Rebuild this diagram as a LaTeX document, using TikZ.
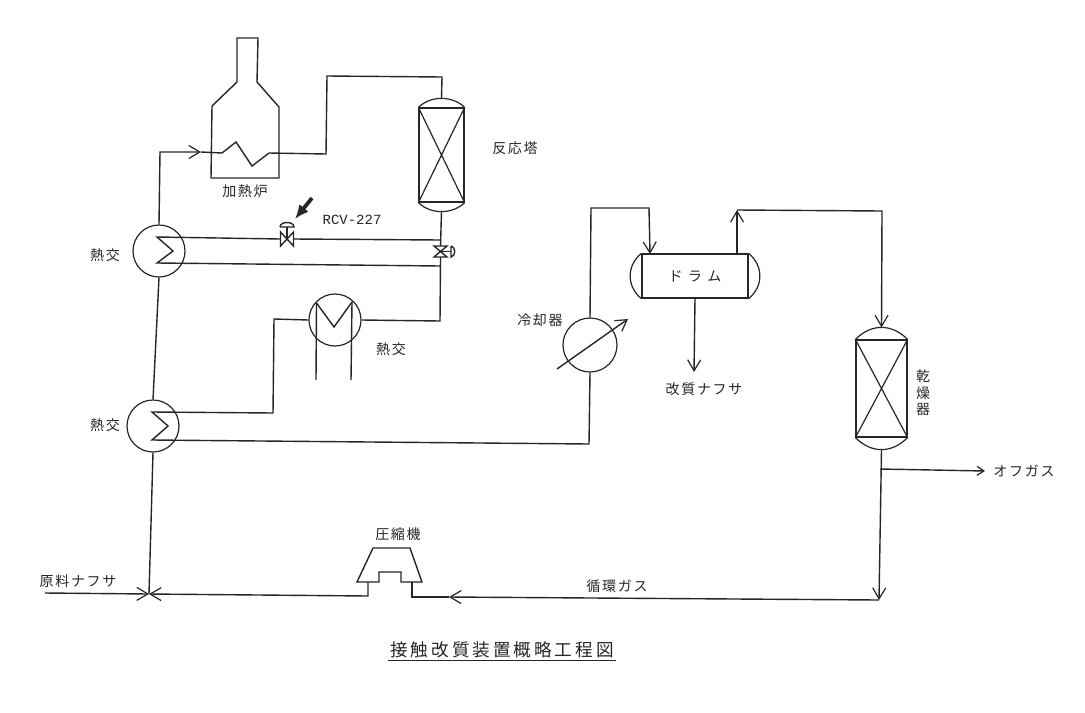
\documentclass[tikz,border=0pt]{standalone}
\usepackage{fontspec}
\usepackage{tikz}
\usetikzlibrary{arrows.meta,calc,positioning}
\newfontfamily\jpfont[LetterSpace=12]{Noto Sans CJK JP}
\newfontfamily\jpwide[LetterSpace=40]{Noto Sans CJK JP}
\newfontfamily\jptitle[LetterSpace=17]{Noto Sans CJK JP}
\newfontfamily\tagfont{Liberation Mono}
\definecolor{Ink}{HTML}{262626}
\tikzset{
  pipe/.style={Ink,line width=0.7pt,line join=miter},
  flow/.style={pipe,-{Straight Barb[length=5.5pt,width=6.5pt,line width=0.6pt]}},
  flowsmall/.style={pipe,-{Straight Barb[length=3.5pt,width=4.5pt,line width=0.6pt]}},
  exch/.style={draw=Ink,line width=0.6pt,circle,inner sep=0pt,minimum size=26pt},
  vessel/.style={draw=Ink,line width=0.6pt,rectangle,inner sep=0pt},
  valvebox/.style={rectangle,inner sep=0pt,outer sep=0pt},
  lbl/.style={text=Ink,inner sep=0pt,font=\jpfont\fontsize{7}{9}\selectfont},
}
\newcommand{\packedbed}[2]{%
  \draw[pipe,line width=0.6pt] (#1.north west) -- (#1.south east) (#1.north east) -- (#1.south west);
  \draw[pipe,line width=0.6pt] (#1.north west) .. controls +(#2,-#2) and +(-#2,-#2) .. (#1.north east);
  \draw[pipe,line width=0.6pt] (#1.south west) .. controls +(#2,#2) and +(-#2,#2) .. (#1.south east);
  \coordinate (#1top) at ($(#1.north)+(0,-0.75*#2)$);
  \coordinate (#1bot) at ($(#1.south)+(0,0.75*#2)$);
}
\begin{document}
\begin{tikzpicture}[x=0.5pt,y=-0.5pt,>=Latex]
    \useasboundingbox (0,0) rectangle (1085,712);
    \fill[white] (0,0) rectangle (1085,712);

    % furnace
    \draw[pipe] (237,38) -- (258,38) -- (257,82) -- (279,107) -- (279,178)
      -- (211,178) -- (212,106) -- (237,82) -- cycle;
    \coordinate (coilin) at (222,153);
    \coordinate (coilout) at (269,153);

    % equipment
    \node[exch] (hxA) at (159,251) {};
    \node[exch] (hxB) at (153,426) {};
    \node[exch] (hxC) at (335,320) {};
    \node[exch,minimum size=27pt] (cooler) at (590,345) {};
    \node[vessel,minimum width=22.5pt,minimum height=47pt] (reactor) at (441.5,155) {};
    \node[vessel,minimum width=25.5pt,minimum height=48.5pt] (dryer) at (881.5,388.5) {};
    \node[vessel,minimum width=53pt,minimum height=22pt,text=Ink,font=\jpwide\fontsize{7}{9}\selectfont]
      (drum) at (695,276) {ドラム};
    \packedbed{reactor}{12}
    \packedbed{dryer}{16}
    \draw[pipe,line width=0.6pt] (drum.north west) .. controls +(-15,12) and +(-15,-12) .. (drum.south west);
    \draw[pipe,line width=0.6pt] (drum.north east) .. controls +(15,12) and +(15,-12) .. (drum.south east);

    % compressor
    \node[valvebox,minimum width=32.5pt,minimum height=17pt] (comp) at (389.5,565) {};
    \draw[pipe] (373,548) -- (410,548) -- (422,582) -- (401,582) -- (401,572)
      -- (379,572) -- (379,582) -- (357,582) -- cycle;

    % valves
    \node[valvebox,minimum width=6.5pt,minimum height=7pt] (rcv) at (287,239) {};
    \node[valvebox,minimum width=6.5pt,minimum height=5.5pt] (bypass) at (440.5,251.5) {};
    \draw[pipe] (rcv.north west) -- (rcv.south west) -- (rcv.north east) -- (rcv.south east) -- cycle;
    \draw[pipe] (rcv.center) -- (287,227);
    \draw[pipe] (280,227) -- (294,227) .. controls (294,221) and (280,221) .. (280,227);
    \draw[pipe] (bypass.north west) -- (bypass.north east) -- (bypass.south west) -- (bypass.south east) -- cycle;
    \draw[pipe] (bypass.center) -- (451,251.5);
    \draw[pipe] (451,246) -- (451,257) .. controls (456,256) and (456,247) .. (451,246);
    \draw[-{Latex[length=7pt,width=6pt]},Ink,line width=1.9pt] (312,198) -- (295,219);

    % furnace feed and outlet
    \draw[flow] (hxA.north) -- (160,152) -- (201,152);
    \draw[pipe] (201,152) -- (coilin) -- (236,142) -- (252,166) -- (coilout)
      -- (326,154) -- (327,76) -- (442,77) -- (reactortop);

    % reactor effluent
    \draw[pipe] (reactorbot) -- (bypass.north);
    \draw[pipe] (bypass.south) -- (440,321) -- (hxC.east);
    \draw[pipe] (441,240) -- (rcv.east);
    \draw[pipe] (rcv.west) -- (157,237) -- (173,251) -- (157,263) -- (440,266);

    % lower exchangers
    \draw[pipe] (hxC.west) -- (274,319) -- (273,413) -- (152,412) -- (168,426)
      -- (152,440) -- (589,444) -- (cooler.south);
    \draw[pipe] (316.5,303) -- (316,380);
    \draw[pipe] (352,302) -- (351,380);
    \draw[pipe] (316.5,303) -- (334,327) -- (352,302);
    \draw[flow] (557,369) -- (628,319);

    % drum
    \coordinate (drumin) at (650,254);
    \coordinate (drumout) at (737,254);
    \draw[flow] (cooler.north) -- (591,208) -- (649,208) -- (drumin);
    \draw[flow] (drumout) -- (737,210);
    \draw[flow] (737,210) -- (882,211) -- (dryertop);
    \draw[flow] (drum.south) -- (694,372);

    % dryer outlet and recycle
    \coordinate (offgas) at (985,471);
    \coordinate (recycle) at (879,600);
    \coordinate (feed) at (45,593);
    \coordinate (mix) at (149,594);
    \draw[flowsmall] (880,469) -- (offgas);
    \draw[flow] (dryerbot) -- (recycle);
    \draw[flow] (recycle) -- (449,597);
    \draw[pipe] (449,597) -- (412,597) -- (412,582);
    \draw[flow] (368,582) -- (368,596) -- (mix);
    \draw[flow] (feed) -- (mix);
    \draw[pipe] (mix) -- (hxB.south);
    \draw[pipe] (hxB.north) -- (hxA.south);

    % labels
    \node[lbl] (lblhxa) at (105,255) {熱交};
    \node[lbl] (lblhxb) at (105,425) {熱交};
    \node[lbl] (lblhxc) at (391,349) {熱交};
    \node[lbl] (lblfurn) at (245,191) {加熱炉};
    \node[lbl] (lblreact) at (515,148) {反応塔};
    \node[lbl,font=\tagfont\fontsize{7}{9}\selectfont] (lblrcv) at (352,220) {RCV-227};
    \node[lbl] (lblcool) at (540,320) {冷却器};
    \node[lbl] (lblprod) at (704,389) {改質ナフサ};
    \node[lbl,align=center,font=\jpfont\fontsize{7}{8.2}\selectfont] (lbldry) at (923,393) {乾\\燥\\器};
    \node[lbl] (lbloff) at (1024,471) {オフガス};
    \node[lbl] (lblcomp) at (398,534) {圧縮機};
    \node[lbl] (lblrec) at (617,586) {循環ガス};
    \node[lbl] (lblfeed) at (78,581) {原料ナフサ};
    \node[lbl,inner sep=1pt,font=\jptitle\fontsize{8.8}{10}\selectfont] (title) at (502,650) {接触改質装置概略工程図};
    \draw[Ink,line width=0.9pt] (title.south west) -- (title.south east);
\end{tikzpicture}
\end{document}
